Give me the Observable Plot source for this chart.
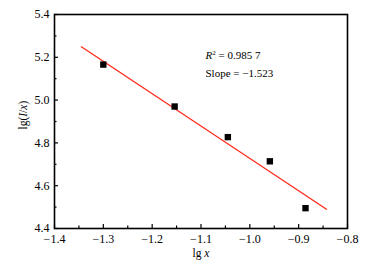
<!DOCTYPE html>
<html><head><meta charset="utf-8">
<script src="https://cdn.jsdelivr.net/npm/d3@7"></script>
<script src="https://cdn.jsdelivr.net/npm/@observablehq/plot@0.6"></script>
<style>
body{margin:0;background:#fff}
#chart svg, #chart svg text, #chart svg g { font-family: "Liberation Serif", "Times New Roman", "DejaVu Serif", serif !important; }
</style>
</head><body><div id="chart"></div>
<script>
const lgX = [-1.300, -1.154, -1.045, -0.959, -0.886];
const lgIx = [5.166, 4.970, 4.827, 4.714, 4.495];
const fitX = [-1.345, -0.843];
const fitY = [5.249, 4.490];
const xTicks = [-1.4, -1.3, -1.2, -1.1, -1.0, -0.9, -0.8];
const xMinor = [-1.35, -1.25, -1.15, -1.05, -0.95, -0.85];
const yTicks = [4.4, 4.6, 4.8, 5.0, 5.2, 5.4];
const yMinor = [4.5, 4.7, 4.9, 5.1, 5.3];
const r2Text = "R2 = 0.985 7";
const slopeText = "Slope = \u22121.523";

const pts = lgX.map((x, i) => ({x, y: lgIx[i]}));
const fit = fitX.map((x, i) => ({x, y: fitY[i]}));
const serif = "Liberation Serif, Times New Roman, DejaVu Serif, serif";

const chart = Plot.plot({
  width: 373, height: 269,
  marginLeft: 54, marginRight: 26, marginTop: 14, marginBottom: 41,
  style: {fontSize: "11px", color: "#000", background: "#fff", fontFamily: serif},
  x: {domain: [-1.4, -0.8]},
  y: {domain: [4.4, 5.4]},
  marks: [
    Plot.axisX({ticks: xTicks, tickSize: -4, tickPadding: 10, tickFormat: d3.format(".1f"), label: null, strokeWidth: 1.2, fontSize: 12}),
    Plot.axisX({ticks: xMinor, tickSize: -2.5, text: null, label: null, strokeWidth: 1.2}),
    Plot.axisY({ticks: yTicks, tickSize: -4, tickPadding: 9, tickFormat: d3.format(".1f"), label: null, strokeWidth: 1.2, fontSize: 12}),
    Plot.axisY({ticks: yMinor, tickSize: -2.5, text: null, label: null, strokeWidth: 1.2}),
    Plot.frame({stroke: "#000", strokeWidth: 1.6}),
    Plot.line(fit, {x: "x", y: "y", stroke: "#ff2a1a", strokeWidth: 1.3}),
    Plot.dot(pts, {x: "x", y: "y", symbol: "square", fill: "#000", r: 3.6}),
    Plot.text([r2Text], {frameAnchor: "top-left", dx: 151, dy: 41, lineAnchor: "middle", textAnchor: "start", fontSize: 11, className: "r2"}),
    Plot.text([slopeText], {frameAnchor: "top-left", dx: 151, dy: 59, lineAnchor: "middle", textAnchor: "start", fontSize: 11}),
    Plot.text(["lg x"], {frameAnchor: "bottom", dy: 25, lineAnchor: "middle", fontSize: 11.5, className: "xlab"}),
    Plot.text(["lg(I/x)"], {frameAnchor: "left", dx: -31, dy: 8, lineAnchor: "middle", rotate: -90, fontSize: 11.5, className: "ylab"})
  ]
});
document.getElementById("chart").append(chart);

const svg = d3.select(chart);
svg.selectAll("text").attr("font-family", serif).style("font-family", serif);
svg.selectAll(".xlab text").each(function() {
  const t = d3.select(this); t.text("");
  t.append("tspan").text("lg ");
  t.append("tspan").attr("font-style", "italic").text("x");
});
svg.selectAll(".ylab text").each(function() {
  const t = d3.select(this); t.text("");
  t.append("tspan").text("lg(");
  t.append("tspan").attr("font-style", "italic").text("I");
  t.append("tspan").text("/");
  t.append("tspan").attr("font-style", "italic").text("x");
  t.append("tspan").text(")");
});
svg.selectAll(".r2 text").each(function() {
  const t = d3.select(this); t.text("");
  t.append("tspan").attr("font-style", "italic").text("R");
  t.append("tspan").attr("font-size", "7px").attr("dy", "-4").text("2");
  t.append("tspan").attr("dy", "4").text(" = 0.985 7");
});
</script></body></html>
